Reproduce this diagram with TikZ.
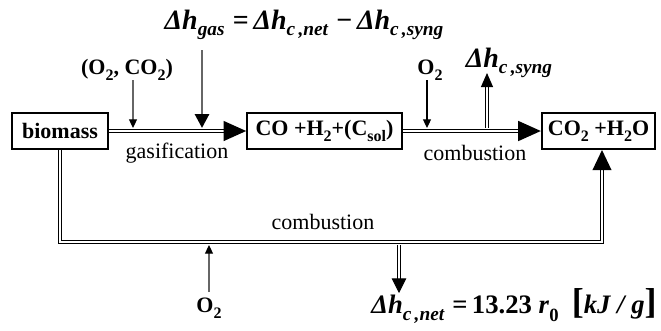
\documentclass[tikz,border=0pt]{standalone}
\usepackage{fontspec}
\setmainfont{Liberation Serif}
\usetikzlibrary{arrows.meta}
\newcommand\bsz{\fontsize{16.5}{19}\selectfont}
\newcommand\dhx[2]{{\fontsize{#2}{#2}\selectfont\bfseries\itshape Δh}\raisebox{-0.3em}{\fontsize{14.5}{16}\selectfont\bfseries\itshape #1}}
\newcommand\subx[1]{\raisebox{-0.25em}{\fontsize{12}{14}\selectfont #1}}
\begin{document}
\begin{tikzpicture}[x=0.75pt,y=-0.75pt,
  box/.style={draw,line width=1.5pt,minimum height=27pt,inner sep=0pt,font=\bsz\bfseries},
  lbl/.style={inner sep=0pt,font=\bsz\bfseries},
  plain/.style={inner sep=0pt,font=\bsz},
  dbl/.style={double,line width=1.1pt,double distance=1.5pt},
  dblthin/.style={double,line width=0.7pt,double distance=1.6pt},
  bigtip/.style={-{Triangle[length=17pt,width=15pt]}},
  thin/.style={line width=0.8pt,-{Triangle[length=6.5pt,width=6pt,color=black]}}
]
\useasboundingbox (0,0) rectangle (661,330);
% boxes
\node[box,minimum width=72pt] (bio) at (60,131) {biomass};
\node[box,minimum width=116pt] (co) at (324.5,131) {CO +H\subx{2}+(C\subx{sol})};
\node[box,minimum width=85pt] (co2) at (598.5,131) {CO\subx{2} +H\subx{2}O};
% labels
\node[lbl] (lo2co2) at (127,70) {(O\subx{2}, CO\subx{2})};
\node[lbl] (eqtop) at (304,25) {\dhx{gas}{21}\,{\fontsize{21}{21}\selectfont\bfseries\,=\,}\dhx{c\,,net}{21}\,{\fontsize{21}{21}\selectfont\bfseries\,−\,}\dhx{c\,,syng}{21}};
\node[lbl] (lo2a) at (430,70) {O\subx{2}};
\node[lbl] (lsyng) at (509,63) {\dhx{c\,,syng}{21}};
\node[plain] (gasif) at (177,153) {gasification};
\node[plain] (comb1) at (475,153) {combustion};
\node[plain] (comb2) at (323,222) {combustion};
\node[lbl] (lo2b) at (209,308) {O\subx{2}};
\node[lbl] (eqnet) at (514,306) {\dhx{c\,,net}{20}\,{\fontsize{20}{20}\selectfont\bfseries\,=\,13.23 \textit{r}\raisebox{-0.3em}{\fontsize{14}{16}\selectfont 0}\ \ {\fontsize{27}{27}\selectfont[}\textit{kJ / g}{\fontsize{27}{27}\selectfont]}}};
% coordinates
\coordinate (g1s) at (133,80);
\coordinate (g1e) at (133,128);
\coordinate (gas) at (202,50);
\coordinate (gae) at (202,128);
\coordinate (o2s) at (427,80);
\coordinate (o2e) at (427,128);
\coordinate (sys) at (487,128);
\coordinate (sye) at (487,73);
\coordinate (c1) at (60,242);
\coordinate (c2) at (602,242);
\coordinate (o2bs) at (209,292);
\coordinate (o2be) at (209,245);
\coordinate (nts) at (399,245);
\coordinate (nte) at (399,293);
% main connectors
\draw[dbl,bigtip] (bio.east) -- (co.west);
\draw[dbl,bigtip] (co.east) -- (co2.west);
\draw[dbl,-{Triangle[length=15pt,width=14pt]}] (bio.south) -- (c1) -- (c2) -- (co2.south -| c2);
% small arrows
\draw[thin,black!60] (g1s) -- (g1e);
\draw[black!60,line width=2.2pt,-{Triangle[length=10.5pt,width=10.5pt,color=black]}] (gas) -- (gae);
\draw[thin] (o2s) -- (o2e);
\draw[dblthin,-{Triangle[length=10.5pt,width=9pt]}] (sys) -- (sye);
\draw[thin,black!60] (o2bs) -- (o2be);
\draw[dblthin,-{Triangle[length=11pt,width=11pt]}] (nts) -- (nte);
\end{tikzpicture}
\end{document}
